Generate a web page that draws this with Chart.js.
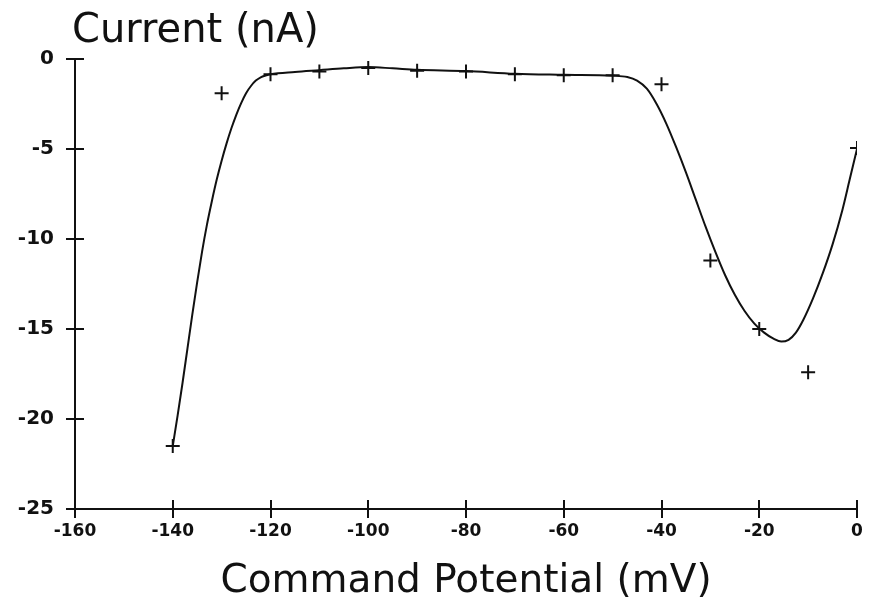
<!DOCTYPE html>
<html>
<head>
<meta charset="utf-8">
<script src="https://cdn.jsdelivr.net/npm/chart.js@4"></script>
<style>
  html, body { margin: 0; padding: 0; background: #fff; }
  #wrap { width: 875px; height: 609px; position: relative; }
</style>
</head>
<body>
<div id="wrap"><canvas id="c"></canvas></div>
<script>
// Measured points (crosses)
const potentials = [-140, -130, -120, -110, -100, -90, -80, -70, -60, -50, -40, -30, -20, -10, 0];
const currents   = [-21.5, -1.9, -0.85, -0.7, -0.5, -0.65, -0.7, -0.85, -0.9, -0.9, -1.4, -11.2, -15, -17.4, -4.95];

// Fitted smooth curve
const fitPotentials = [-140, -139, -138, -137, -136, -135, -134, -133, -132, -131, -130, -129, -128, -127, -126, -125, -124, -123, -122, -121, -120, -115, -110, -105, -100, -95, -90, -80, -70, -60, -50, -47, -45, -43, -41, -39, -37, -35, -33, -31, -29, -27, -25, -23, -21, -19, -17, -15.5, -14, -12.5, -11, -9, -7, -5, -3, -1.5, 0];
const fitCurrents   = [-21.5, -19.8, -18.0, -16.1, -14.2, -12.4, -10.7, -9.2, -7.9, -6.7, -5.65, -4.7, -3.85, -3.1, -2.45, -1.9, -1.5, -1.2, -1.02, -0.92, -0.85, -0.72, -0.62, -0.52, -0.45, -0.52, -0.6, -0.67, -0.82, -0.88, -0.93, -1.0, -1.2, -1.65, -2.5, -3.6, -4.9, -6.3, -7.8, -9.3, -10.7, -12.0, -13.1, -14.0, -14.7, -15.2, -15.55, -15.7, -15.6, -15.2, -14.5, -13.3, -11.9, -10.3, -8.4, -6.7, -5.0];

const xTicks = [-160, -140, -120, -100, -80, -60, -40, -20, 0];
const yTicks = [0, -5, -10, -15, -20, -25];

const xTitle = 'Command Potential (mV)';
const yTitle = 'Current (nA)';

const INK = '#111';

const innerTicks = {
  id: 'innerTicks',
  afterDraw(chart) {
    const {ctx, chartArea, scales} = chart;
    ctx.save();
    ctx.strokeStyle = INK;
    ctx.lineWidth = 2;
    ctx.beginPath();
    xTicks.forEach(v => {
      const px = Math.round(scales.x.getPixelForValue(v));
      ctx.moveTo(px, chartArea.bottom);
      ctx.lineTo(px, chartArea.bottom - 9);
    });
    yTicks.forEach(v => {
      const py = Math.round(scales.y.getPixelForValue(v));
      ctx.moveTo(chartArea.left, py);
      ctx.lineTo(chartArea.left + 9, py);
    });
    ctx.stroke();
    // y-axis title, drawn horizontally above the axis
    ctx.fillStyle = INK;
    ctx.font = '40px "DejaVu Sans"';
    ctx.textBaseline = 'alphabetic';
    ctx.textAlign = 'left';
    ctx.fillText(yTitle, chartArea.left - 3, 42);
    ctx.restore();
  }
};

new Chart(document.getElementById('c'), {
  type: 'scatter',
  data: {
    datasets: [
      {
        label: 'fit',
        data: fitPotentials.map((x, i) => ({x, y: fitCurrents[i]})),
        showLine: true,
        borderColor: INK,
        borderWidth: 2,
        pointRadius: 0,
        cubicInterpolationMode: 'monotone',
        fill: false
      },
      {
        label: 'measured',
        data: potentials.map((x, i) => ({x, y: currents[i]})),
        showLine: false,
        pointStyle: 'cross',
        pointRadius: 7,
        pointBorderWidth: 2,
        pointBorderColor: INK,
        pointBackgroundColor: INK
      }
    ]
  },
  options: {
    responsive: true,
    maintainAspectRatio: false,
    animation: false,
    layout: { padding: { top: 59, left: 0, right: 18, bottom: 0 } },
    plugins: { legend: { display: false }, tooltip: { enabled: false } },
    scales: {
      x: {
        type: 'linear',
        min: -160, max: 0,
        afterBuildTicks: s => { s.ticks = xTicks.map(v => ({value: v})); },
        afterFit: s => { s.height = 100; },
        border: { color: INK, width: 2 },
        grid: { drawOnChartArea: false, tickLength: 9, color: INK, lineWidth: 2 },
        ticks: { color: INK, padding: 3, font: { family: '"DejaVu Sans"', size: 17, weight: 'bold' }, maxRotation: 0 },
        title: { display: true, text: xTitle, color: INK, font: { family: '"DejaVu Sans"', size: 39, lineHeight: 1 }, padding: { top: 0, bottom: 8 } }
      },
      y: {
        type: 'linear',
        min: -25, max: 0,
        afterBuildTicks: s => { s.ticks = yTicks.map(v => ({value: v})); },
        afterFit: s => { s.width = 75; },
        border: { color: INK, width: 2 },
        grid: { drawOnChartArea: false, tickLength: 9, color: INK, lineWidth: 2 },
        ticks: { color: INK, padding: 12, font: { family: '"DejaVu Sans"', size: 20, weight: 'bold' } }
      }
    }
  },
  plugins: [innerTicks]
});
</script>
</body>
</html>
